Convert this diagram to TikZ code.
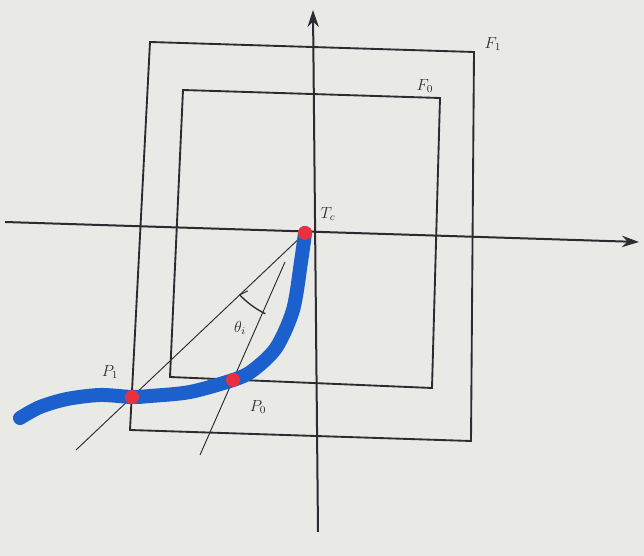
\documentclass[tikz,border=0pt]{standalone}
\usetikzlibrary{arrows.meta,positioning,calc}
\definecolor{paper}{RGB}{233,233,230}
\definecolor{ink}{RGB}{45,42,48}
\definecolor{track}{RGB}{28,96,206}
\definecolor{hit}{RGB}{232,48,62}

\begin{document}
\begin{tikzpicture}[x=0.75pt,y=-0.75pt,>={Stealth[length=4.5mm,width=3mm]},every node/.style={font=\large,text=ink}]
\fill[paper] (0,0) rectangle (644,556);
\useasboundingbox (0,0) rectangle (644,556);
% frames
\coordinate (o1) at (150,42);  \coordinate (o2) at (474,52);
\coordinate (o3) at (471,441); \coordinate (o4) at (130,430);
\coordinate (i1) at (183,90);  \coordinate (i2) at (440,98);
\coordinate (i3) at (432,388); \coordinate (i4) at (170,377);
\draw[ink,line width=1.4pt] (o1) -- (o2) -- (o3) -- (o4) -- cycle;
\draw[ink,line width=1.4pt] (i1) -- (i2) -- (i3) -- (i4) -- cycle;
\node[anchor=west] (lF1) at (480,44) {$F_1$};
\node[anchor=west] (lF0) at (412,86) {$F_0$};
% axes
\coordinate (xl) at (5,222);  \coordinate (xr) at (639,242);
\coordinate (yb) at (318,532); \coordinate (yt) at (313,10);
\draw[ink,line width=1.5pt,->] (xl) -- (xr);
\draw[ink,line width=1.5pt,->] (yb) -- (yt);
% points
\coordinate (Tc) at (305,233);
\coordinate (P0) at (233,380);
\coordinate (P1) at (132,397);
% rays through P1 and P0
\coordinate (r1) at (76,450);
\coordinate (r0s) at (285,262); \coordinate (r0) at (200,455);
\draw[ink,line width=0.7pt] (Tc) -- (P1) -- (r1);
\draw[ink,line width=0.7pt] (r0s) -- (P0) -- (r0);
% angle
\coordinate (a1) at (239.7,294.9);
\draw[ink,line width=1pt] (a1) arc[start angle=136.5,end angle=116.1,radius=90];
\draw[ink,line width=0.8pt] (a1) -- ++(8,-4);
\node (lth) at (240,328) {$\theta_i$};
% trajectory
\draw[track,line width=10.5pt,line cap=round,line join=round] plot[smooth,tension=0.5] coordinates {(305,233) (301,262) (293,310) (276,348) (252,371) (233,380) (190,392) (150,396) (132,397) (100,395) (67,399) (40,407) (20,418)};
\fill[hit] (Tc) circle[radius=7];
\fill[hit] (P0) circle[radius=7];
\fill[hit] (P1) circle[radius=7];
\node[anchor=west] (lTc) at (316,214) {$T_c$};
\node (lP1) at (110,372) {$P_1$};
\node (lP0) at (258,407) {$P_0$};
\end{tikzpicture}
\end{document}
